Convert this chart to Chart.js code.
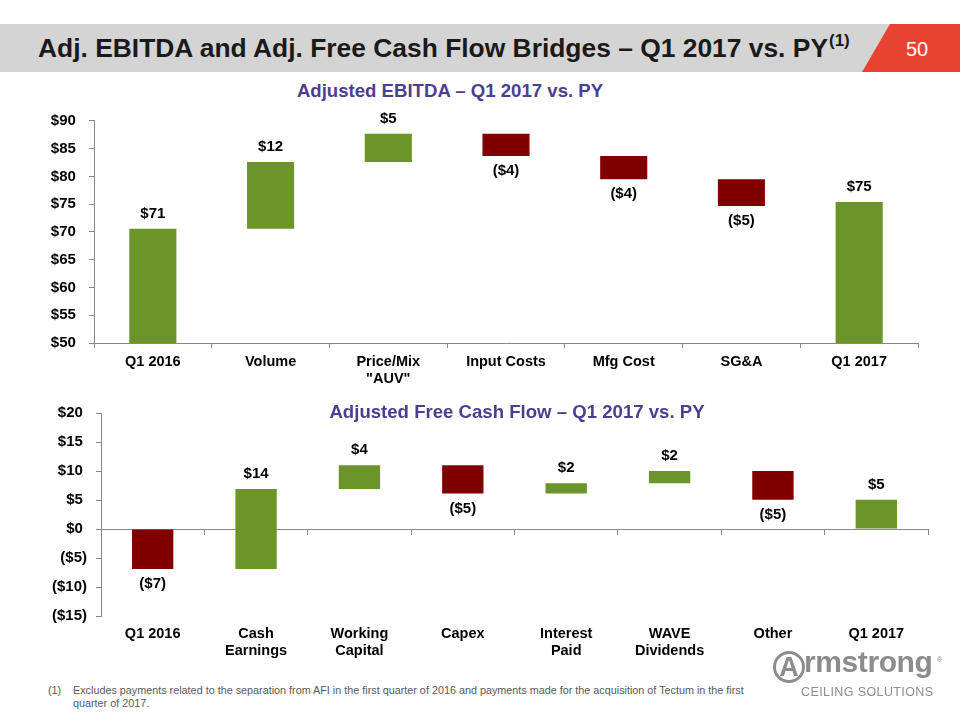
<!DOCTYPE html>
<html><head><meta charset="utf-8">
<script src="https://cdn.jsdelivr.net/npm/chart.js@4.4.1/dist/chart.umd.min.js"></script>
<style>
html,body{margin:0;padding:0;background:#fff;}
body{width:960px;height:720px;position:relative;overflow:hidden;font-family:"Liberation Sans",Arial,sans-serif;}
.abs{position:absolute;white-space:nowrap;line-height:1;}
#band{position:absolute;left:0;top:24px;width:960px;height:48px;background:#d4d4d4;}
#redbox{position:absolute;top:24px;left:862px;width:98px;height:48px;background:#e8432f;clip-path:polygon(28px 0,98px 0,98px 48px,0 48px);}
#title{left:38px;top:34.5px;font-size:26.4px;font-weight:bold;color:#1a1a1a;}
#title sup{font-size:17px;position:relative;top:-3px;vertical-align:top;line-height:1;margin-left:1px;}
#pagenum{left:880px;top:39px;width:74px;text-align:center;font-size:20px;color:#fff;}
.sub{font-size:18.6px;font-weight:bold;color:#4e3d8f;text-align:center;}
#sub1{left:250px;top:82px;width:400px;}
#sub2{left:317px;top:402.6px;width:400px;}
#c1wrap{position:absolute;left:20px;top:108px;width:910px;height:282px;}
#c2wrap{position:absolute;left:20px;top:398px;width:920px;height:268px;}
#foot{position:absolute;left:48px;top:683.5px;font-size:10.8px;line-height:13px;color:#595959;}
#foot .n{position:absolute;left:0;top:0;}
#foot .t{position:absolute;left:25px;top:0;white-space:nowrap;}
#circA{position:absolute;left:773px;top:651px;width:32px;height:32px;box-sizing:border-box;border:3px solid #8c8c8c;border-radius:50%;color:#8c8c8c;font-weight:bold;font-size:27px;line-height:26px;text-align:center;}
#rm{left:804px;top:646.5px;font-size:30px;font-weight:bold;color:#8c8c8c;letter-spacing:-0.4px;}
#reg{left:937px;top:656px;font-size:7px;color:#8c8c8c;}
#ceil{left:801px;top:686.4px;font-size:12.5px;color:#8c8c8c;letter-spacing:0.4px;}
</style>
</head>
<body>
<div id="band"></div>
<div id="redbox"></div>
<div id="title" class="abs">Adj. EBITDA and Adj. Free Cash Flow Bridges – Q1 2017 vs. PY<sup>(1)</sup></div>
<div id="pagenum" class="abs">50</div>
<div id="sub1" class="abs sub">Adjusted EBITDA – Q1 2017 vs. PY</div>
<div id="c1wrap"><canvas id="c1"></canvas></div>
<div id="c2wrap"><canvas id="c2"></canvas></div>
<div id="sub2" class="abs sub">Adjusted Free Cash Flow – Q1 2017 vs. PY</div>
<div id="foot"><span class="n">(1)</span><span class="t">Excludes payments related to the separation from AFI in the first quarter of 2016 and payments made for the acquisition of Tectum in the first<br>quarter of 2017.</span></div>
<div id="circA">A</div>
<div id="rm" class="abs">rmstrong</div>
<div id="reg" class="abs">®</div>
<div id="ceil" class="abs">CEILING SOLUTIONS</div>
<script>
// ---- Data ----
const ebitdaCategories = ['Q1 2016', 'Volume', ['Price/Mix', '"AUV"'], 'Input Costs', 'Mfg Cost', 'SG&A', 'Q1 2017'];
const ebitdaStart = [0, 70.6, 82.6, 87.7, 83.7, 79.5, 0];
const ebitdaEnd = [70.6, 82.6, 87.7, 83.7, 79.5, 74.7, 75.4];
const ebitdaLabels = ['$71', '$12', '$5', '($4)', '($4)', '($5)', '$75'];
const ebitdaAxis = [50, 90, 5];

const fcfCategories = ['Q1 2016', ['Cash', 'Earnings'], ['Working', 'Capital'], 'Capex', ['Interest', 'Paid'], ['WAVE', 'Dividends'], 'Other', 'Q1 2017'];
const fcfStart = [0, -6.9, 6.9, 11.0, 6.1, 7.9, 10.0, 0];
const fcfEnd = [-6.9, 6.9, 11.0, 6.1, 7.9, 10.0, 5.05, 5.05];
const fcfLabels = ['($7)', '$14', '$4', '($5)', '$2', '$2', '($5)', '$5'];
const fcfAxis = [-15, 20, 5];

// ---- Styling ----
const FONT = '"Liberation Sans", Arial, sans-serif';
const UP = '#6b9528', DOWN = '#800000', AXIS = '#888888';
Chart.defaults.font.family = FONT;

function money(v) { return v < 0 ? '($' + (-v) + ')' : '$' + v + ' '; }
function pairs(s, e) { return s.map((v, i) => [v, e[i]]); }
function colors(s, e) { return s.map((v, i) => e[i] >= v ? UP : DOWN); }

const valueLabels = {
  id: 'valueLabels',
  afterDatasetsDraw(chart, args, opts) {
    const ctx = chart.ctx;
    const meta = chart.getDatasetMeta(0);
    ctx.save();
    ctx.font = 'bold 15px ' + FONT;
    ctx.fillStyle = '#000';
    ctx.textAlign = 'center';
    ctx.textBaseline = 'middle';
    meta.data.forEach((bar, i) => {
      const up = opts.ends[i] >= opts.starts[i];
      const top = Math.min(bar.y, bar.base), bottom = Math.max(bar.y, bar.base);
      const y = up ? top - opts.offset : bottom + opts.offset;
      ctx.fillText(String(opts.labels[i]), bar.x, y);
    });
    ctx.restore();
  }
};

function makeChart(id, cats, starts, ends, labels, axis, o) {
  const scales = {
    x: {
      offset: true,
      grid: o.xGrid ? { display: true, drawOnChartArea: false, drawTicks: true, tickLength: 5, color: AXIS, offset: true } : { display: false },
      border: { display: o.xGrid, color: AXIS },
      ticks: { color: '#000', font: { size: 14.5, weight: 'bold', lineHeight: o.lh }, padding: o.xPad, autoSkip: false, maxRotation: 0 },
      afterFit(s) { s.height = o.xH; }
    },
    y: {
      min: axis[0], max: axis[1],
      ticks: { stepSize: axis[2], callback: money, color: '#000', font: { size: 15, weight: 'bold', lineHeight: o.yLh }, padding: 9 },
      grid: { drawOnChartArea: false, drawTicks: true, tickLength: 5, color: AXIS },
      border: { display: true, color: AXIS },
      afterFit(s) { s.width = o.yW; }
    }
  };
  if (o.zeroAxis) {
    scales.x2 = {
      type: 'category', position: { y: 0 }, offset: true,
      grid: { display: true, drawOnChartArea: false, drawTicks: true, tickLength: 5, color: AXIS, offset: true },
      border: { display: true, color: AXIS },
      ticks: { display: false }
    };
  }
  return new Chart(document.getElementById(id), {
    type: 'bar',
    data: {
      labels: cats,
      datasets: [{
        data: pairs(starts, ends),
        backgroundColor: colors(starts, ends),
        borderWidth: 0,
        barPercentage: 0.4,
        categoryPercentage: 1.0,
        xAxisID: 'x'
      }]
    },
    options: {
      responsive: true, maintainAspectRatio: false, animation: false,
      layout: { padding: { top: 0, right: 12, left: 0, bottom: 0 } },
      plugins: { legend: { display: false }, tooltip: { enabled: false },
        valueLabels: { starts, ends, labels, offset: o.off } },
      scales
    },
    plugins: [valueLabels]
  });
}

makeChart('c1', ebitdaCategories, ebitdaStart, ebitdaEnd, ebitdaLabels, ebitdaAxis,
  { xGrid: true, xPad: 6, xH: 47, yW: 74, yLh: 0.53, lh: 1.15, off: 15, zeroAxis: false });
makeChart('c2', fcfCategories, fcfStart, fcfEnd, fcfLabels, fcfAxis,
  { xGrid: false, xPad: 1, xH: 50, yW: 81, yLh: 0.8, lh: 1.2, off: 15, zeroAxis: true });
</script>
</body></html>
